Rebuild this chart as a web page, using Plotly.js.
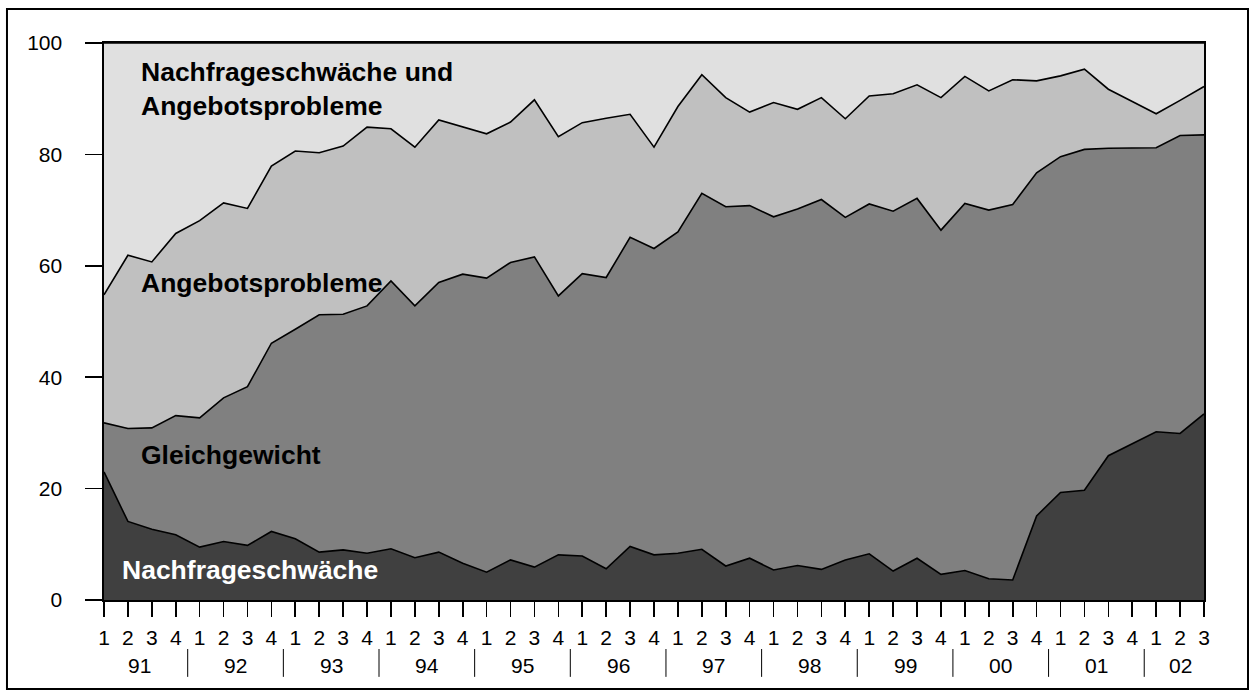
<!DOCTYPE html>
<html>
<head>
<meta charset="utf-8">
<script src="https://cdn.plot.ly/plotly-3.0.1.min.js"></script>
<style>
  html, body { margin: 0; padding: 0; background: #ffffff; }
  #chart { width: 1250px; height: 691px; }
</style>
</head>
<body>
<div id="chart"></div>
<script>
// Quarter labels (91 Q1 ... 02 Q3)
const years = ['91','92','93','94','95','96','97','98','99','00','01','02'];
const quartersPerYear = [4,4,4,4,4,4,4,4,4,4,4,3];

// Shares in percent (stacked bottom to top)
const nachfrageschwaeche = [23.0,14.1,12.7,11.7,9.5,10.5,9.8,12.3,11.0,8.6,9.0,8.4,9.2,7.6,8.6,6.6,5.0,7.2,5.9,8.1,7.9,5.6,9.6,8.1,8.4,9.1,6.1,7.5,5.4,6.2,5.5,7.2,8.3,5.2,7.5,4.6,5.3,3.8,3.6,15.1,19.3,19.7,25.9,28.0,30.2,29.9,33.4];
const gleichgewicht = [8.8,16.7,18.2,21.4,23.2,25.8,28.5,33.8,37.6,42.6,42.3,44.4,48.1,45.2,48.4,51.9,52.8,53.4,55.7,46.5,50.7,52.3,55.5,55.0,57.7,63.9,64.5,63.3,63.4,64.0,66.4,61.5,62.8,64.6,64.6,61.8,65.9,66.2,67.4,61.6,60.3,61.2,55.2,53.1,51.0,53.5,50.1];
const angebotsprobleme = [23.0,31.1,29.8,32.7,35.4,35.0,32.0,31.8,32.0,29.1,30.2,32.1,27.3,28.5,29.2,26.5,25.9,25.2,28.2,28.6,27.1,28.6,22.1,18.2,22.5,21.3,19.6,16.8,20.5,17.9,18.3,17.7,19.4,21.1,20.4,23.8,22.8,21.4,22.4,16.5,14.5,14.4,10.6,8.4,6.1,6.3,8.7];
const beides = [45.2,38.1,39.3,34.2,31.9,28.7,29.7,22.1,19.4,19.7,18.5,15.1,15.4,18.7,13.8,15.0,16.3,14.2,10.2,16.8,14.3,13.5,12.8,18.7,11.4,5.7,9.8,12.4,10.7,11.9,9.8,13.6,9.5,9.1,7.5,9.8,6.0,8.6,6.6,6.8,5.9,4.7,8.3,10.5,12.7,10.3,7.8];

const seriesNames = ['Nachfrageschwäche','Gleichgewicht','Angebotsprobleme','Nachfrageschwäche und Angebotsprobleme'];
const yTickVals = [0,20,40,60,80,100];

// Build the quarter index and tick text
const xIdx = [], qText = [];
quartersPerYear.forEach(n => { for (let q = 1; q <= n; q++) { xIdx.push(xIdx.length); qText.push(String(q)); } });

const FONT = 'Liberation Sans, Arial, Helvetica, sans-serif';
const fills = ['#404040','#808080','#c0c0c0','#e0e0e0'];
const data = [nachfrageschwaeche, gleichgewicht, angebotsprobleme, beides].map((vals, k) => ({
  x: xIdx, y: vals, name: seriesNames[k], type: 'scatter', mode: 'lines',
  stackgroup: 'one', fillcolor: fills[k],
  line: {color: '#000000', width: 1.6}, hoverinfo: 'skip'
}));

// Year labels and separators below the axis
const annotations = [], shapes = [];
let start = 0;
years.forEach((yr, k) => {
  const n = quartersPerYear[k];
  annotations.push({x: start + (n - 1) / 2, xref: 'x', y: -0.1167, yref: 'paper',
    text: yr, showarrow: false, xanchor: 'center', yanchor: 'middle',
    font: {family: FONT, size: 21, color: '#000'}});
  if (k > 0) {
    shapes.push({type: 'line', xref: 'x', yref: 'paper', x0: start - 0.5, x1: start - 0.5,
      y0: -0.088, y1: -0.138, line: {color: '#000', width: 1}});
  }
  start += n;
});

// Series labels inside the areas
const lab = (text, x, y, color) => ({text, x, y, xref: 'paper', yref: 'paper', xanchor: 'left', yanchor: 'middle',
  align: 'left', showarrow: false, font: {family: FONT, size: 26.5, color, weight: 'bold'}});
annotations.push(lab('<b>Nachfrageschwäche und<br>Angebotsprobleme</b>', 0.0318, 0.918, '#000'));
annotations.push(lab('<b>Angebotsprobleme</b>', 0.0318, 0.569, '#000'));
annotations.push(lab('<b>Gleichgewicht</b>', 0.0318, 0.260, '#000'));
annotations.push(lab('<b>Nachfrageschwäche</b>', 0.0145, 0.054, '#fff'));

// Outer frame
shapes.push({type: 'rect', xref: 'paper', yref: 'paper', x0: -0.0882, x1: 1.0400, y0: -0.1598, y1: 1.0610,
  line: {color: '#000', width: 2}, fillcolor: 'rgba(0,0,0,0)', layer: 'above'});

const layout = {
  width: 1250, height: 691,
  margin: {l: 104, r: 46, t: 43, b: 91, pad: 0},
  paper_bgcolor: '#ffffff', plot_bgcolor: '#ffffff',
  showlegend: false,
  font: {family: FONT, size: 21, color: '#000'},
  xaxis: {range: [0, xIdx.length - 1], tickmode: 'array', tickvals: xIdx, ticktext: qText,
    ticks: 'outside', ticklen: 15, tickwidth: 1.6, tickcolor: '#000',
    showline: true, linecolor: '#000', linewidth: 1.6, mirror: true,
    showgrid: false, zeroline: false, fixedrange: true,
    tickfont: {family: FONT, size: 21, color: '#000'}, ticklabelstandoff: 3},
  yaxis: {range: [0, 100], tickmode: 'array', tickvals: yTickVals,
    ticks: 'outside', ticklen: 17, tickwidth: 1.6, tickcolor: '#000',
    showline: true, linecolor: '#000', linewidth: 1.6, mirror: true,
    showgrid: false, zeroline: false, fixedrange: true,
    tickfont: {family: FONT, size: 21, color: '#000'}, ticklabelstandoff: 19},
  annotations, shapes
};

Plotly.newPlot('chart', data, layout, {staticPlot: true, displayModeBar: false});
</script>
</body>
</html>
